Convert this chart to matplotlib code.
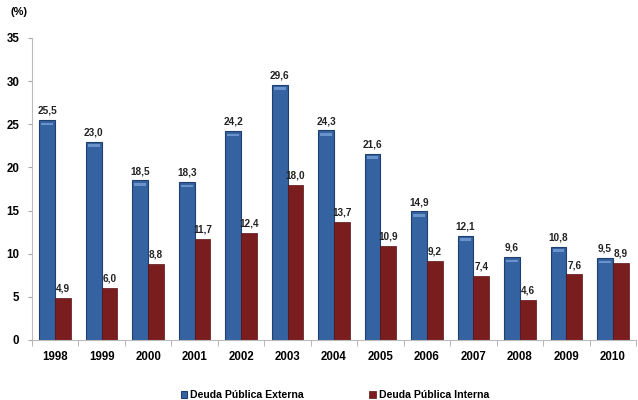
import numpy as np
import matplotlib.pyplot as plt

years = ['1998', '1999', '2000', '2001', '2002', '2003', '2004',
         '2005', '2006', '2007', '2008', '2009', '2010']
externa = [25.5, 23.0, 18.5, 18.3, 24.2, 29.6, 24.3, 21.6, 14.9, 12.1, 9.6, 10.8, 9.5]
interna = [4.9, 6.0, 8.8, 11.7, 12.4, 18.0, 13.7, 10.9, 9.2, 7.4, 4.6, 7.6, 8.9]

plt.rcParams['font.family'] = ['Liberation Sans', 'DejaVu Sans']

fig = plt.figure(figsize=(6.38, 4.0), dpi=100)
ax = fig.add_axes([0.05, 0.15, 0.947, 0.755])

x = np.arange(len(years))
w = 0.34
blue = '#3562a0'
red = '#7a1d1f'

b1 = ax.bar(x - w / 2, externa, w, color=blue, edgecolor='#1f3f6e', linewidth=0.8,
            label='Deuda Pública Externa')
b2 = ax.bar(x + w / 2, interna, w, color=red, edgecolor='#5a1214', linewidth=0.5,
            label='Deuda Pública Interna')
# subtle light cap on blue bars
ax.bar(x - w / 2, [0.3] * len(x), w * 0.75, bottom=np.array(externa) - 0.6,
       color='#6b93cb', linewidth=0)

def fmt(v):
    return f'{v:.1f}'.replace('.', ',')

for xi, v in zip(x, externa):
    ax.text(xi - w / 2, v + 0.5, fmt(v), ha='center', va='bottom',
            fontsize=7.2, fontweight='bold', color='#222222')
for xi, v in zip(x, interna):
    ax.text(xi + w / 2, v + 0.5, fmt(v), ha='center', va='bottom',
            fontsize=7.2, fontweight='bold', color='#222222')

ax.set_xlim(-0.5, len(years) - 0.5)
ax.set_ylim(0, 35)
ax.set_yticks(range(0, 36, 5))
ax.set_xticks(x)
ax.set_xticklabels(years)
ax.set_xticks(np.arange(-0.5, len(years), 1), minor=True)
ax.tick_params(axis='x', which='major', length=0, pad=8, labelsize=8.3)
ax.tick_params(axis='x', which='minor', length=4, color='#aaaaaa', direction='out')
ax.tick_params(axis='y', length=3, color='#aaaaaa', labelsize=8.3, pad=6)
for lab in ax.get_xticklabels() + ax.get_yticklabels():
    lab.set_fontweight('bold')

for s in ['top', 'right']:
    ax.spines[s].set_visible(False)
ax.spines['left'].set_color('#bbbbbb')
ax.spines['bottom'].set_color('#bbbbbb')

fig.text(0.016, 0.962, '(%)', fontsize=8, fontweight='bold')

leg = fig.legend(handles=[b1, b2], loc='lower center', bbox_to_anchor=(0.525, -0.025),
                 ncol=2, frameon=False, fontsize=7.6, handlelength=0.6,
                 handleheight=0.6, handletextpad=0.3, columnspacing=6.2)
for t in leg.get_texts():
    t.set_fontweight('bold')

fig.savefig('out.png', dpi=100)
